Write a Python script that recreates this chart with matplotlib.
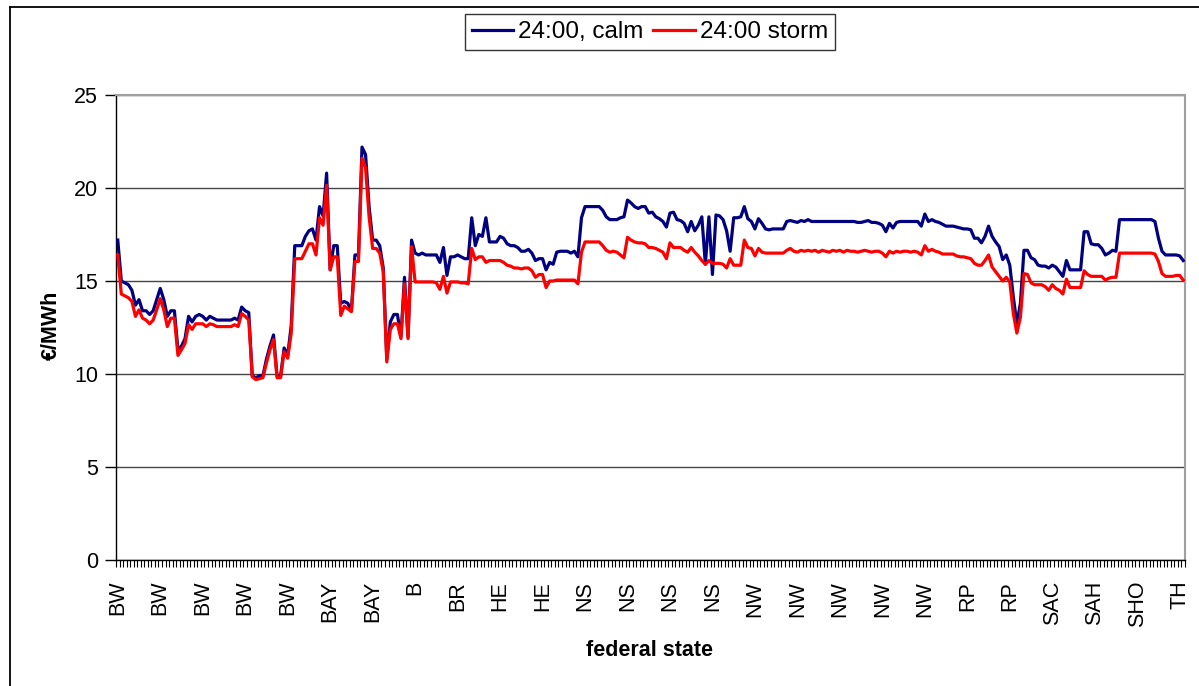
import numpy as np
import matplotlib
matplotlib.use("Agg")
import matplotlib.pyplot as plt
from matplotlib.lines import Line2D

plt.rcParams['font.family'] = ['Liberation Sans', 'DejaVu Sans']

# tick labels, one every 12 categories
state_labels = ['BW', 'BW', 'BW', 'BW', 'BW', 'BAY', 'BAY', 'B', 'BR', 'HE', 'HE',
                'NS', 'NS', 'NS', 'NS', 'NW', 'NW', 'NW', 'NW', 'NW', 'RP', 'RP',
                'SAC', 'SAH', 'SHO', 'TH']
label_step = 12

# 24:00, calm  (EUR/MWh)
calm = [
    17.2, 15.0, 14.9, 14.8, 14.5, 13.7, 14.0, 13.4, 13.4, 13.2,
    13.4, 14.0, 14.6, 14.0, 13.1, 13.4, 13.4, 11.3, 11.5, 11.9,
    13.1, 12.8, 13.1, 13.2, 13.1, 12.9, 13.1, 13.0, 12.9, 12.9,
    12.9, 12.9, 12.9, 13.0, 12.9, 13.6, 13.4, 13.3, 9.9, 9.8,
    9.9, 9.9, 10.8, 11.5, 12.1, 9.9, 9.9, 11.4, 11.0, 12.6,
    16.9, 16.9, 16.9, 17.4, 17.7, 17.8, 17.2, 19.0, 18.5, 20.8,
    15.6, 16.9, 16.9, 13.8, 13.9, 13.8, 13.4, 16.4, 16.4, 22.2,
    21.8, 19.0, 17.2, 17.2, 16.9, 15.7, 10.8, 12.8, 13.2, 13.2,
    12.0, 15.2, 12.0, 17.2, 16.5, 16.4, 16.5, 16.4, 16.4, 16.4,
    16.4, 16.0, 16.8, 15.3, 16.3, 16.3, 16.4, 16.3, 16.2, 16.2,
    18.4, 16.9, 17.5, 17.4, 18.4, 17.1, 17.1, 17.1, 17.4, 17.3,
    17.0, 16.9, 16.9, 16.8, 16.6, 16.6, 16.7, 16.5, 16.1, 16.2,
    16.2, 15.6, 16.0, 15.9, 16.55, 16.6, 16.6, 16.6, 16.5, 16.6,
    16.3, 18.4, 19.0, 19.0, 19.0, 19.0, 19.0, 18.8, 18.45, 18.3,
    18.3, 18.3, 18.4, 18.45, 19.35, 19.2, 19.0, 18.9, 19.0, 19.0,
    18.65, 18.7, 18.45, 18.35, 18.2, 17.9, 18.65, 18.7, 18.3, 18.25,
    18.1, 17.65, 18.2, 17.7, 18.0, 18.45, 15.9, 18.45, 15.35, 18.55,
    18.5, 18.3, 17.7, 16.6, 18.4, 18.4, 18.45, 19.0, 18.35, 18.2,
    17.8, 18.35, 18.1, 17.8, 17.75, 17.8, 17.8, 17.8, 17.8, 18.2,
    18.25, 18.2, 18.15, 18.25, 18.2, 18.3, 18.2, 18.2, 18.2, 18.2,
    18.2, 18.2, 18.2, 18.2, 18.2, 18.2, 18.2, 18.2, 18.2, 18.15,
    18.15, 18.2, 18.25, 18.15, 18.15, 18.1, 18.0, 17.65, 18.1, 17.85,
    18.15, 18.2, 18.2, 18.2, 18.2, 18.2, 18.2, 17.95, 18.6, 18.2,
    18.3, 18.2, 18.15, 18.05, 17.95, 17.95, 17.95, 17.9, 17.85, 17.8,
    17.8, 17.75, 17.3, 17.3, 17.05, 17.4, 17.95, 17.4, 17.1, 16.85,
    16.15, 16.4, 15.85, 14.15, 12.7, 13.8, 16.65, 16.65, 16.25, 16.15,
    15.85, 15.8, 15.8, 15.7, 15.85, 15.75, 15.5, 15.25, 16.1, 15.6,
    15.6, 15.6, 15.6, 17.65, 17.65, 17.0, 16.95, 16.95, 16.75, 16.4,
    16.5, 16.65, 16.6, 18.3, 18.3, 18.3, 18.3, 18.3, 18.3, 18.3,
    18.3, 18.3, 18.3, 18.2, 17.3, 16.6, 16.4, 16.4, 16.4, 16.4,
    16.35, 16.1,
]

# 24:00 storm  (EUR/MWh)
storm = [
    16.4, 14.3, 14.2, 14.1, 13.9, 13.1, 13.45, 13.0, 12.9, 12.7,
    12.9, 13.45, 14.05, 13.45, 12.55, 13.0, 13.0, 11.0, 11.3, 11.65,
    12.65, 12.4, 12.7, 12.7, 12.7, 12.55, 12.7, 12.65, 12.55, 12.55,
    12.55, 12.55, 12.55, 12.65, 12.55, 13.25, 13.1, 12.9, 9.85, 9.7,
    9.75, 9.8, 10.6, 11.3, 11.85, 9.8, 9.8, 11.2, 10.85, 12.2,
    16.2, 16.2, 16.2, 16.6, 17.0, 17.0, 16.4, 18.4, 18.0, 20.15,
    15.6, 16.3, 16.3, 13.15, 13.65, 13.5, 13.35, 16.05, 16.05, 21.6,
    21.1, 18.45, 16.75, 16.75, 16.5, 15.5, 10.65, 12.4, 12.7, 12.7,
    11.9, 14.85, 11.9, 16.85, 14.95, 14.95, 14.95, 14.95, 14.95, 14.95,
    14.9, 14.55, 15.25, 14.35, 14.95, 14.95, 14.95, 14.9, 14.9, 14.85,
    16.75, 16.15, 16.3, 16.3, 16.0, 16.1, 16.1, 16.1, 16.1, 16.0,
    15.85, 15.8, 15.7, 15.7, 15.65, 15.7, 15.7, 15.55, 15.2, 15.35,
    15.35, 14.65, 15.0, 15.0, 15.05, 15.05, 15.05, 15.05, 15.05, 15.05,
    14.85, 16.55, 17.1, 17.1, 17.1, 17.1, 17.1, 16.9, 16.65, 16.55,
    16.6, 16.55, 16.4, 16.25, 17.35, 17.2, 17.1, 17.05, 17.05, 17.0,
    16.8, 16.8, 16.75, 16.65, 16.55, 16.2, 17.05, 16.8, 16.8, 16.8,
    16.65, 16.55, 16.8, 16.55, 16.35, 16.1, 15.9, 16.1, 15.95, 15.95,
    15.95, 15.9, 15.7, 16.2, 15.85, 15.85, 15.85, 17.2, 16.8, 16.75,
    16.35, 16.75, 16.55, 16.5, 16.5, 16.5, 16.5, 16.5, 16.5, 16.65,
    16.75, 16.6, 16.55, 16.65, 16.6, 16.65, 16.6, 16.65, 16.55, 16.65,
    16.6, 16.55, 16.65, 16.6, 16.65, 16.55, 16.65, 16.6, 16.6, 16.55,
    16.6, 16.65, 16.6, 16.55, 16.6, 16.6, 16.5, 16.3, 16.6, 16.5,
    16.6, 16.55, 16.6, 16.6, 16.55, 16.6, 16.55, 16.4, 16.9, 16.6,
    16.7, 16.6, 16.55, 16.45, 16.45, 16.45, 16.45, 16.35, 16.3, 16.3,
    16.25, 16.2, 15.95, 15.85, 15.85, 16.1, 16.4, 15.75, 15.5, 15.25,
    15.0, 15.2, 14.95, 13.25, 12.2, 13.05, 15.4, 15.35, 14.9, 14.8,
    14.8, 14.8, 14.7, 14.5, 14.8, 14.6, 14.5, 14.3, 15.1, 14.65,
    14.65, 14.65, 14.65, 15.55, 15.35, 15.25, 15.25, 15.25, 15.25, 15.05,
    15.15, 15.2, 15.2, 16.5, 16.5, 16.5, 16.5, 16.5, 16.5, 16.5,
    16.5, 16.5, 16.5, 16.45, 16.05, 15.4, 15.25, 15.25, 15.25, 15.3,
    15.3, 15.05,
]

n = len(calm)
x = np.arange(n)

W, H = 1199, 686
fig = plt.figure(figsize=(W / 100, H / 100), dpi=100)
ax = fig.add_axes([116 / W, 1 - 560 / H, (1185 - 116) / W, (560 - 95) / H])

ax.plot(x, calm, color='#000080', lw=2.3, label='24:00, calm', zorder=3)
ax.plot(x, storm, color='#ff0000', lw=2.3, label='24:00 storm', zorder=4)

ax.set_xlim(-0.5, n - 0.5)
ax.set_ylim(0, 25)
ax.set_yticks(np.arange(0, 26, 5))
ax.yaxis.grid(True, color='#444444', lw=1)
ax.set_axisbelow(True)

ax.set_xticks(np.arange(0, n, label_step))
ax.set_xticklabels(state_labels[:len(range(0, n, label_step))], rotation=90, va='top')
ax.set_xticks(np.arange(-0.5, n, 1), minor=True)
ax.tick_params(axis='x', which='major', length=0, pad=15, labelsize=15.5)
ax.tick_params(axis='x', which='minor', length=5, width=0.8, direction='out')
ax.tick_params(axis='y', length=8, width=1, pad=5, labelsize=15.5)

for s in ['top', 'right']:
    ax.spines[s].set_color('#a0a0a0')
    ax.spines[s].set_linewidth(1.5)
for s in ['left', 'bottom']:
    ax.spines[s].set_color('black')
    ax.spines[s].set_linewidth(1)

fig.text(51 / W, 1 - 325 / H, '€/MWh', rotation=90, ha='center', va='center',
         fontsize=15.5, fontweight='bold')
fig.text(650 / W, 1 - 650 / H, 'federal state', ha='center', va='center',
         fontsize=15.5, fontweight='bold')

leg = fig.legend(loc='center', bbox_to_anchor=(650 / W, 1 - 32 / H), ncol=2,
                 frameon=True, fancybox=False, edgecolor='black',
                 handlelength=1.7, handletextpad=0.2, columnspacing=0.4,
                 borderpad=0.3, prop={'size': 17.5})
leg.get_frame().set_linewidth(1)

# chart area border
fig.add_artist(Line2D([10 / W, 10 / W], [0, 1 - 7 / H], color='black', lw=1.3,
                      transform=fig.transFigure))
fig.add_artist(Line2D([10 / W, 1], [1 - 7 / H, 1 - 7 / H], color='black', lw=1.3,
                      transform=fig.transFigure))

fig.savefig('out.png', dpi=100)
